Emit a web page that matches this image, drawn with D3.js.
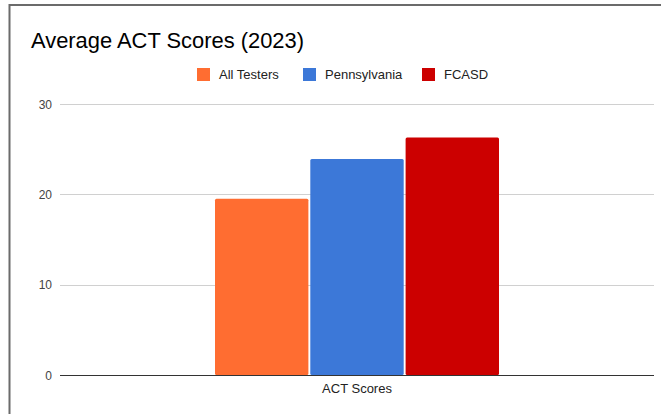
<!DOCTYPE html>
<html><head><meta charset="utf-8">
<script src="https://cdn.jsdelivr.net/npm/d3@7"></script>
<style>html,body{margin:0;padding:0;background:#fff;overflow:hidden}</style>
</head><body>
<svg id="c" width="661" height="414"></svg>
<script>
const categories = ["ACT Scores"];
const seriesNames = ["All Testers", "Pennsylvania", "FCASD"];
const seriesValues = [19.5, 23.9, 26.3];
const seriesColors = ["#ff6d31", "#3c78d8", "#cc0000"];
const yTicks = [0, 10, 20, 30];

(function () {
const svg = d3.select("#c");
const font = "Arial, 'Liberation Sans', sans-serif";

// frame
svg.append("rect").attr("x", 9.5).attr("y", 5).attr("width", 700).attr("height", 500)
  .attr("fill", "#fff").attr("stroke", "#6b6b6b").attr("stroke-width", 2);

svg.append("text").attr("x", 31).attr("y", 48).text("Average ACT Scores (2023)")
  .attr("font-family", font).attr("font-size", 21.9).attr("fill", "#000");

const pLeft = 60, pRight = 654, pTop = 104, pBottom = 375;
const y = d3.scaleLinear().domain([0, 30]).range([pBottom, pTop]);
const x0 = d3.scaleBand().domain(categories).range([pLeft, pRight]);
const groupW = 284;
const x1 = d3.scaleBand().domain(seriesNames).range([0, groupW]).paddingInner(0.02);

// gridlines
svg.append("g").selectAll("line").data(yTicks.filter(t => t !== 0)).join("line")
  .attr("x1", pLeft).attr("x2", pRight)
  .attr("y1", d => Math.round(y(d)) + 0.5).attr("y2", d => Math.round(y(d)) + 0.5)
  .attr("stroke", "#d0d0d0").attr("stroke-width", 1);

// y tick labels
svg.append("g").selectAll("text").data(yTicks).join("text")
  .attr("x", 52).attr("y", d => y(d) + 4.5).attr("text-anchor", "end")
  .attr("font-family", font).attr("font-size", 12).attr("fill", "#444")
  .text(d => d);

// bars
const g = svg.append("g");
categories.forEach(cat => {
  const cx = x0(cat) + x0.bandwidth() / 2 - groupW / 2;
  g.selectAll("rect.b").data(seriesValues).join("rect")
    .attr("class", "b")
    .attr("x", (d, i) => cx + x1(seriesNames[i]))
    .attr("width", x1.bandwidth())
    .attr("y", d => y(d))
    .attr("height", d => pBottom - y(d))
    .attr("rx", 1.5)
    .attr("fill", (d, i) => seriesColors[i]);
});

// baseline
svg.append("line").attr("x1", pLeft).attr("x2", pRight).attr("y1", pBottom + 0.5).attr("y2", pBottom + 0.5)
  .attr("stroke", "#333").attr("stroke-width", 1);

// x label
svg.append("g").selectAll("text").data(categories).join("text")
  .attr("x", d => x0(d) + x0.bandwidth() / 2).attr("y", 393)
  .attr("text-anchor", "middle").attr("font-family", font).attr("font-size", 13).attr("fill", "#222")
  .text(d => d);

// legend
const legX = [197, 303, 422];
const leg = svg.append("g");
seriesNames.forEach((n, i) => {
  leg.append("rect").attr("x", legX[i]).attr("y", 68).attr("width", 13).attr("height", 13)
    .attr("fill", seriesColors[i]);
  leg.append("text").attr("x", legX[i] + 22).attr("y", 79).text(n)
    .attr("font-family", font).attr("font-size", 13).attr("fill", "#222");
});
})();
</script>
</body></html>
